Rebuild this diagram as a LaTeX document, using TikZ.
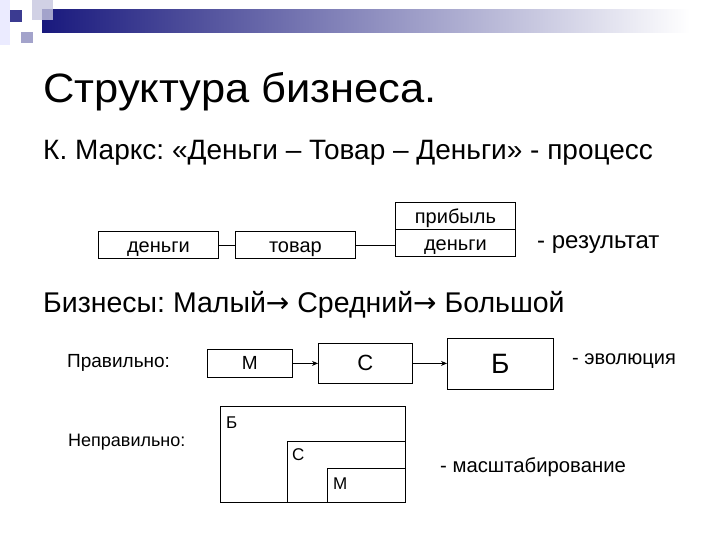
\documentclass[tikz,border=0pt]{standalone}
\usepackage{fontspec}
\setmainfont{Liberation Sans}
\newfontfamily\dejavu{DejaVu Sans}
\usetikzlibrary{arrows.meta}
\frenchspacing
\begin{document}
\begin{tikzpicture}[x=1pt,y=-1pt,
  box/.style={draw=black,line width=0.8pt,inner sep=0pt,anchor=north west},
  lbl/.style={inner sep=0pt,anchor=west,font=\frenchspacing},
  btxt/.style={inner sep=0pt,anchor=base,font=\fontsize{20}{24}\selectfont},
  conn/.style={line width=0.8pt},
  arr/.style={line width=0.8pt,-{Stealth[length=6pt,width=5pt]}}]
\useasboundingbox (0,0) rectangle (720,540);
\definecolor{navy}{RGB}{25,25,125}
% decoration
\fill[blue!8] (0,0) rectangle (10,45);
\shade[left color=navy,right color=white] (42,10) rectangle (690,33);
\fill[navy!25,opacity=0.8] (32,0) rectangle (53,20);
\fill[navy!85] (10,10) rectangle (22,22);
\fill[navy!40] (21,32) rectangle (33,43);
% title texts
\node[lbl,anchor=base west] (title) at (43,103) {\scalebox{1.06}[1]{\fontsize{41}{45}\selectfont Структура бизнеса.}};
\node[lbl] (sub) at (43,153) {\fontsize{28}{32}\selectfont К. Маркс: «Деньги – Товар – Деньги» - процесс};
% row 1
\node[box,minimum width=120pt,minimum height=27pt] (m1) at (98,231) {};
\node[btxt] at ([yshift=6pt]m1.south) {деньги};
\node[box,minimum width=120pt,minimum height=27pt] (t1) at (235,231) {};
\node[btxt] at ([yshift=6pt]t1.south) {товар};
\node[box,minimum width=120pt,minimum height=27pt] (m2) at (395,229) {};
\node[btxt] at ([yshift=6pt]m2.south) {деньги};
\node[box,minimum width=120pt,minimum height=27pt] (p2) at (395,202) {};
\node[btxt] at ([yshift=6pt]p2.south) {прибыль};
\draw[conn] (m1.east) -- (t1.west);
\draw[conn] (t1.east) -- (t1.east -| m2.west);
\node[lbl] (res) at (537,245) {\fontsize{24}{28}\selectfont - результат};
% businesses
\node[lbl] (biz) at (43,305) {\fontsize{28.5}{32}\selectfont Бизнесы: Малый{\dejavu\fontsize{28}{32}\selectfont →} Средний{\dejavu\fontsize{28}{32}\selectfont →} Большой};
% row 2
\node[lbl] (prav) at (67,363) {\fontsize{19}{22}\selectfont Правильно:};
\node[box,minimum width=85pt,minimum height=28pt] (bm) at (207,349) {};
\node[anchor=center,inner sep=0pt] at (bm.center) {\fontsize{19}{22}\selectfont М};
\node[box,minimum width=94pt,minimum height=40pt] (bs) at (318,343) {};
\node[anchor=center,inner sep=0pt] at (bs.center) {\fontsize{22}{26}\selectfont С};
\node[box,minimum width=106pt,minimum height=51pt] (bb) at (447,338) {};
\node[anchor=center,inner sep=0pt] at (bb.center) {\fontsize{28}{32}\selectfont Б};
\draw[arr] (bm.east) -- (bm.east -| bs.west);
\draw[arr] (bs.east) -- (bs.east -| bb.west);
\node[lbl] (evo) at (572,361) {\fontsize{20}{23}\selectfont - эволюция};
% row 3
\node[lbl] (neprav) at (68,442) {\fontsize{18}{21}\selectfont Неправильно:};
\node[box,minimum width=185pt,minimum height=96pt] (nb) at (220,406) {};
\node[box,minimum width=118pt,minimum height=61pt] (ns) at (287,441) {};
\node[box,minimum width=78pt,minimum height=34pt] (nm) at (327,468) {};
\node[lbl] at (226,423) {\fontsize{17}{20}\selectfont Б};
\node[lbl] at (292,455) {\fontsize{17}{20}\selectfont С};
\node[lbl] at (333,484) {\fontsize{17}{20}\selectfont М};
\node[lbl] (scale) at (440,467) {\fontsize{20.3}{24}\selectfont - масштабирование};
\end{tikzpicture}
\end{document}
